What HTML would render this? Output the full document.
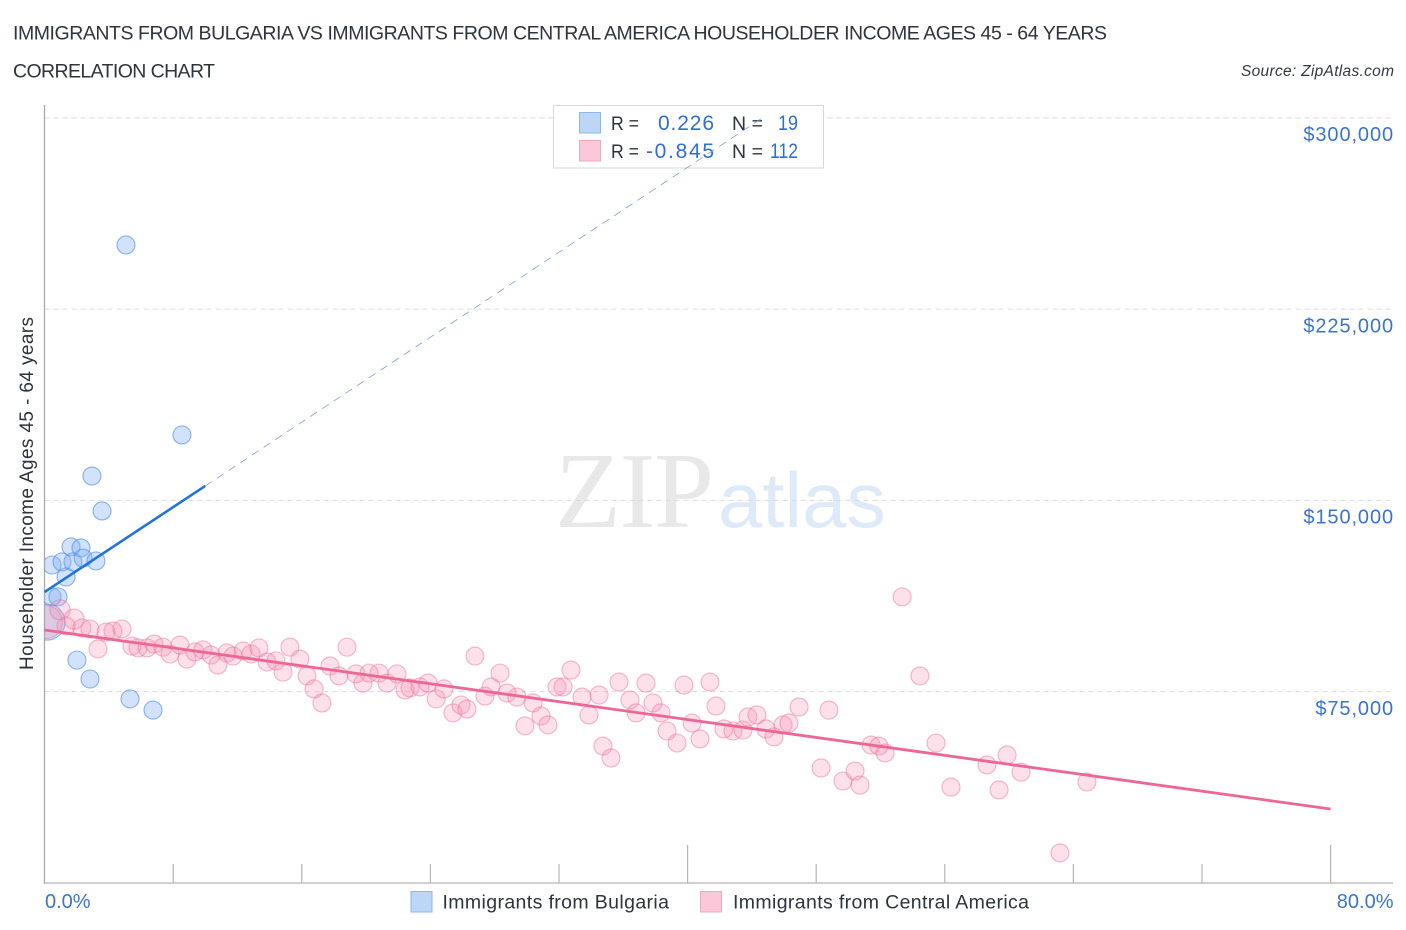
<!DOCTYPE html>
<html lang="en">
<head>
<meta charset="utf-8">
<title>Immigrants from Bulgaria vs Immigrants from Central America Householder Income Correlation Chart</title>
<style>
html,body{margin:0;padding:0;background:#fff;width:1406px;height:930px;overflow:hidden}
svg{display:block;font-family:"Liberation Sans",sans-serif}
</style>
</head>
<body>
<svg id="chart" xmlns="http://www.w3.org/2000/svg" width="1406" height="930" viewBox="0 0 1406 930">
  <defs>
    <clipPath id="plot-clip"><rect x="44.5" y="90" width="1361" height="794"/></clipPath>
  </defs>
  <text x="13" y="39.5" font-size="19.5" fill="#2e343c" textLength="1094" lengthAdjust="spacing">IMMIGRANTS FROM BULGARIA VS IMMIGRANTS FROM CENTRAL AMERICA HOUSEHOLDER INCOME AGES 45 - 64 YEARS</text>
  <text x="13" y="77.5" font-size="19.5" fill="#2e343c" textLength="202" lengthAdjust="spacing">CORRELATION CHART</text>
  <text x="1241" y="76" font-size="15.5" font-style="italic" fill="#33383f" textLength="153" lengthAdjust="spacing">Source: ZipAtlas.com</text>

  <g>
    <text x="555" y="527" font-family="'Liberation Serif',serif" font-size="108" fill="#e8e8e8" textLength="159" lengthAdjust="spacing">ZIP</text>
    <text x="718" y="527" font-size="78" fill="#dfeaf9" textLength="168" lengthAdjust="spacingAndGlyphs">atlas</text>
  </g>

  <g id="grid-layer"></g>
  <g id="axis-layer"></g>
  <g id="points-layer" clip-path="url(#plot-clip)"></g>
  <g id="labels-layer"></g>

  <text transform="translate(33,493.5) rotate(-90)" font-size="19" fill="#2e343c" text-anchor="middle" textLength="353" lengthAdjust="spacing">Householder Income Ages 45 - 64 years</text>

  <g>
    <rect x="553.5" y="105.5" width="270" height="62.5" fill="#fff" stroke="#d8d8d8" stroke-width="1"/>
    <rect x="579.5" y="112.5" width="21" height="20.5" fill="#bcd6f7" stroke="#8fb6ea" stroke-width="1"/>
    <rect x="579.5" y="140.5" width="21" height="20.5" fill="#fcc8d9" stroke="#f3a8c0" stroke-width="1"/>
    <text x="611" y="130" font-size="19.5" fill="#2e343c" textLength="28" lengthAdjust="spacingAndGlyphs">R =</text>
    <text x="658" y="130" font-size="21" fill="#2f6fd0" textLength="56" lengthAdjust="spacing">0.226</text>
    <text x="732" y="130" font-size="19.5" fill="#2e343c" textLength="31" lengthAdjust="spacing">N =</text>
    <text x="778" y="130" font-size="21" fill="#2f6fd0" textLength="20" lengthAdjust="spacingAndGlyphs">19</text>
    <text x="611" y="158" font-size="19.5" fill="#2e343c" textLength="28" lengthAdjust="spacingAndGlyphs">R =</text>
    <text x="646" y="158" font-size="21" fill="#2f6fd0" textLength="68" lengthAdjust="spacing">-0.845</text>
    <text x="732" y="158" font-size="19.5" fill="#2e343c" textLength="31" lengthAdjust="spacing">N =</text>
    <text x="770" y="158" font-size="21" fill="#2f6fd0" textLength="28" lengthAdjust="spacingAndGlyphs">112</text>
  </g>

  <g id="lines-layer"></g>

  <g>
    <g>
      <rect x="411" y="891.5" width="21" height="20.5" fill="#bcd6f7" stroke="#8fb6ea" stroke-width="1"/>
      <text x="442.5" y="908.5" font-size="19.5" fill="#2e343c" textLength="226.5" lengthAdjust="spacing">Immigrants from Bulgaria</text>
    </g>
    <g>
      <rect x="700.5" y="891.5" width="21" height="20.5" fill="#fcc8d9" stroke="#f3a8c0" stroke-width="1"/>
      <text x="733" y="908.5" font-size="19.5" fill="#2e343c" textLength="296" lengthAdjust="spacing">Immigrants from Central America</text>
    </g>
  </g>
</svg>
<script>
// ---- Chart data ----
const yTickValues = [75000, 150000, 225000, 300000];
const yTickLabels = ["$75,000", "$150,000", "$225,000", "$300,000"];
const xTickValues = [8, 16, 24, 32, 40, 48, 56, 64, 72, 80];
const xMajorTicks = [40, 80];
const xEndLabels = ["0.0%", "80.0%"];
const xEndValues = [0, 80];

const bulgariaX = [5.07, 8.55, 2.95, 3.58, 1.65, 2.27, 0.47, 1.09, 1.77, 2.40, 3.20, 1.34, 0.47, 0.84, 2.02, 2.83, 5.32, 6.75, 0.16];
const bulgariaY = [250400, 175900, 159800, 146100, 132000, 131600, 124900, 126100, 126100, 127600, 126500, 120200, 112400, 112400, 87600, 80200, 72400, 68000, 102500];
const bulgariaWeight = [1, 1, 1, 1, 1, 1, 1, 1, 1, 1, 1, 1, 1, 1, 1, 1, 1, 1, 4];

const centralAmericaX = [
  0.10, 0.96, 1.84, 1.34, 2.33, 2.83, 3.83, 4.26, 4.82, 3.33, 5.44, 5.82, 6.38, 6.81, 7.37, 7.81, 8.43, 8.86, 9.36, 9.86,
  10.36, 10.79, 11.35, 11.73, 12.35, 12.85, 13.34, 13.84, 14.40, 14.84, 15.27, 15.89, 16.33, 16.77, 17.26, 17.76,
  18.82, 18.32, 19.38, 19.81, 20.19, 20.81, 21.31, 21.93, 22.43, 22.74, 23.36, 23.86, 24.36, 24.85, 25.41, 25.91, 26.28, 26.78,
  27.40, 27.78, 28.34, 28.77, 29.39, 29.89, 30.39, 30.89, 31.32, 31.88, 32.26, 32.75, 33.44, 33.87, 34.50, 34.74, 35.24,
  35.74, 36.42, 36.80, 37.42, 37.85, 38.35, 38.73, 39.35, 39.78, 40.28, 40.78, 41.40, 41.77, 42.27, 42.83, 43.45, 43.76, 44.32,
  44.88, 45.38, 45.94, 46.31, 46.94, 48.31, 48.80, 49.67, 50.42, 50.73, 51.42, 51.91, 52.29,
  53.35, 54.46, 55.46, 56.39, 58.63, 59.38, 59.88, 60.75, 63.17, 64.85
];
const centralAmericaY = [
  102500, 107300, 103700, 101000, 100200, 99800, 98600, 99000, 99800, 92000, 93100, 92400, 92400, 93900, 92700, 90000, 93500, 88000, 90800, 91600,
  89600, 85700, 90400, 89200, 91200, 90000, 92400, 86900, 87300, 82900, 92700, 88000, 81400, 76300, 70800, 85300,
  92700, 81400, 82200, 78600, 82500, 82500, 78600, 82200, 75900, 76700, 77100, 78600, 72400, 76300, 66900, 70000, 68400, 89200,
  73500, 77100, 82500, 74700, 73100, 61800, 70800, 65700, 62200, 77100, 77100, 83700, 73100, 66100, 73900, 53900, 49200,
  79000, 72000, 66900, 78600, 70800, 66900, 59800, 55100, 77800, 62900, 56700, 79000, 69600, 60600, 59800, 60200, 65300, 66100,
  60600, 57500, 62200, 62900, 69200, 45300, 68000, 40200, 44100, 38600, 54300, 53900, 51200,
  112400, 81400, 55100, 37800, 46500, 36700, 50400, 43700, 12000, 39800
];
const centralAmericaWeight = [3.3, 1.25, 1.25];

const bulgariaTrendSolidX = [0, 10];
const bulgariaTrendSolidY = [114300, 155900];
const bulgariaTrendDashX = [10, 44.6];
const bulgariaTrendDashY = [155900, 300000];
const centralAmericaTrendX = [0, 80];
const centralAmericaTrendY = [99400, 29200];

// ---- Axis functions ----
const NS = "http://www.w3.org/2000/svg";
const xScale = v => 44.5 + v * 16.075;
const yScale = v => 883.5 - v / 392.16;
const radius = w => 9 * Math.sqrt(w || 1);

function make(tag, parent, attrs) {
  const el = document.createElementNS(NS, tag);
  for (const k in attrs) el.setAttribute(k, attrs[k]);
  parent.appendChild(el);
  return el;
}

const gridLayer = document.getElementById("grid-layer");
const axisLayer = document.getElementById("axis-layer");
const pointsLayer = document.getElementById("points-layer");
const linesLayer = document.getElementById("lines-layer");
const labelsLayer = document.getElementById("labels-layer");

// Gridlines and y tick labels
yTickValues.forEach((v, i) => {
  const y = yScale(v) - 0.6;
  const g = make("line", gridLayer, {x1: 44.5, x2: 1393, y1: y, y2: y, stroke: "#dcdcdc", "stroke-width": 1, "stroke-dasharray": "5 4"});
  
  
  const t = make("text", labelsLayer, {x: 1394, y: yScale(v) + 22.5, "font-size": 20, fill: "#3a74d0", "text-anchor": "end", "letter-spacing": "0.9"});
  t.textContent = yTickLabels[i];
  
  
});

// Axes
const yAxis = make("line", axisLayer, {x1: 44.5, x2: 44.5, y1: 105, y2: 884, stroke: "#a9a9a9", "stroke-width": 1.3});


const xAxis = make("line", axisLayer, {x1: 44, x2: 1393, y1: 883, y2: 883, stroke: "#b4b4b4", "stroke-width": 1.3});



xTickValues.forEach(v => {
  const x = xScale(v) + 0.1;
  const top = xMajorTicks.includes(v) ? 845 : 864;
  const tick = make("line", axisLayer, {x1: x, x2: x, y1: top, y2: 883, stroke: "#b4b4b4", "stroke-width": 1.2});
  
  
});

xEndValues.forEach((v, i) => {
  const t = make("text", labelsLayer, {
    x: i === 0 ? xScale(v) + 0.5 : 1393.5,
    y: 908,
    "font-size": 20,
    fill: "#3a74d0",
    "text-anchor": i === 0 ? "start" : "end"
  });
  t.textContent = xEndLabels[i];
  
  
});

// Points
bulgariaX.forEach((x, i) => {
  const c = make("circle", pointsLayer, {
    cx: xScale(x), cy: yScale(bulgariaY[i]), r: radius(bulgariaWeight[i]),
    fill: "#7fb0f0", "fill-opacity": 0.36, stroke: "#4f8fe0", "stroke-opacity": 0.65, "stroke-width": 1.1
  });
  
  
});
centralAmericaX.forEach((x, i) => {
  const c = make("circle", pointsLayer, {
    cx: xScale(x), cy: yScale(centralAmericaY[i]), r: radius(centralAmericaWeight[i]),
    fill: "#f78fb0", "fill-opacity": 0.28, stroke: "#ec6f98", "stroke-opacity": 0.5, "stroke-width": 1.1
  });
  
  
});

// Trend lines
const dashLine = make("line", linesLayer, {
  x1: xScale(bulgariaTrendDashX[0]), y1: yScale(bulgariaTrendDashY[0]),
  x2: xScale(bulgariaTrendDashX[1]), y2: yScale(bulgariaTrendDashY[1]),
  stroke: "#7a9fdc", "stroke-width": 0.8, "stroke-dasharray": "8 6"
});


const solidLine = make("line", linesLayer, {
  x1: xScale(bulgariaTrendSolidX[0]), y1: yScale(bulgariaTrendSolidY[0]),
  x2: xScale(bulgariaTrendSolidX[1]), y2: yScale(bulgariaTrendSolidY[1]),
  stroke: "#2374d8", "stroke-width": 2.6
});


const pinkLine = make("line", linesLayer, {
  x1: xScale(centralAmericaTrendX[0]), y1: yScale(centralAmericaTrendY[0]),
  x2: xScale(centralAmericaTrendX[1]), y2: yScale(centralAmericaTrendY[1]),
  stroke: "#ec6696", "stroke-width": 2.8
});


</script>
</body>
</html>
